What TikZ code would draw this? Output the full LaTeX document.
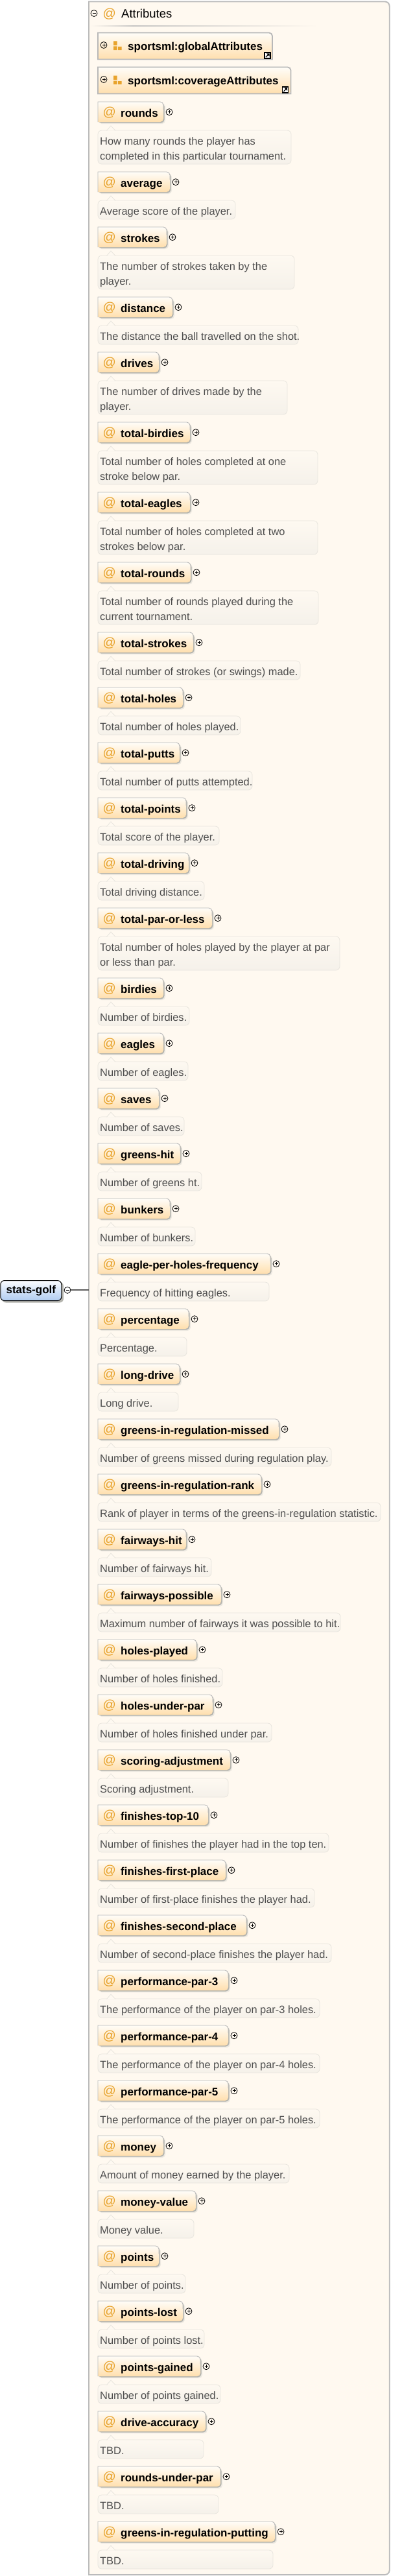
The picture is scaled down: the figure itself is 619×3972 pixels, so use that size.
\documentclass[tikz,border=0pt]{standalone}
\usepackage{fontspec}
\setmainfont{Liberation Sans}
\definecolor{panelfill}{HTML}{FFF9F0}
\definecolor{panelline}{HTML}{BBBBBB}
\definecolor{attrtop}{HTML}{FFFDF8}
\definecolor{attrbot}{HTML}{FFDFAE}
\definecolor{attrline}{HTML}{B8B8B8}
\definecolor{shadowdark}{HTML}{B4B4AE}
\definecolor{shadowlight}{HTML}{EDE9E1}
\definecolor{doctop}{HTML}{FEF9F1}
\definecolor{docbot}{HTML}{F5F1EA}
\definecolor{docline}{HTML}{E8E5DE}
\definecolor{doctext}{HTML}{4E4E4E}
\definecolor{atsign}{HTML}{E8A32C}
\definecolor{golftop}{HTML}{FBFCFF}
\definecolor{golfbot}{HTML}{AFCBF0}
\definecolor{wire}{HTML}{5A5A5A}
\newcount\itemno
\tikzset{
  labeltext/.style={anchor=base west,inner sep=0pt,font=\fontsize{17}{20}\selectfont\bfseries,text=black},
  doclabel/.style={anchor=base west,inner sep=0pt,font=\fontsize{16.4}{20}\selectfont,text=doctext},
  atmark/.style={anchor=base west,inner sep=0pt,font=\fontsize{20}{22}\selectfont,text=atsign},
  toggle/.style={circle,draw=black,line width=0.8pt,minimum size=10pt,inner sep=0pt},
  attrfill/.style={top color=attrtop,bottom color=attrbot},
  docfill/.style={top color=doctop,bottom color=docbot,draw=docline,line width=0.8pt,rounded corners=6pt}
}
% plus sign inside a toggle
\newcommand{\plusin}[1]{\draw[line width=0.7pt] (#1.center) +(-2.5,0) -- +(2.5,0) (#1.center) +(0,-2.5) -- +(0,2.5);}
\newcommand{\minusin}[1]{\draw[line width=0.7pt] (#1.center) +(-2.5,0) -- +(2.5,0);}
% box part of an attribute: top, width, name
\newcommand{\attrhead}[3]{%
  \global\advance\itemno by 1
  \pgfmathsetmacro{\rgt}{151+#2}
  \pgfmathsetmacro{\btm}{#1+31}
  \fill[shadowlight,rounded corners=5pt] (152,#1+3) -- (\rgt+3,#1+3) -- (\rgt+3,\btm+3) -- (152,\btm+3) -- cycle;
  \fill[shadowdark,rounded corners=5pt] (151,#1+2) -- (\rgt+1.5,#1+2) -- (\rgt+1.5,\btm+1.5) -- (151,\btm+1.5) -- cycle;
  \path[attrfill] (151,#1) [rounded corners=5pt] -- (\rgt,#1) -- (\rgt,\btm) [sharp corners] -- (151,\btm) -- cycle;
  \draw[attrline,line width=0.9pt] (151,\btm) -- (151,#1) [rounded corners=5pt] -- (\rgt,#1) -- (\rgt,#1+12);
  \node[atmark] (at\the\itemno) at (158.5,#1+22.5) {@};
  \node[labeltext] (label\the\itemno) at (186,#1+23) {#3};
  \node[toggle] (plus\the\itemno) at (\rgt+9,#1+15.7) {};
  \plusin{plus\the\itemno}
}
% callout part: top of attribute, width, number of text lines
\newcommand{\docbox}[3]{%
  \pgfmathsetmacro{\rgt}{151+#2}
  \pgfmathsetmacro{\dtop}{#1+44}
  \pgfmathsetmacro{\dbtm}{#1+73+23*(#3-1)}
  \path[docfill] (151,\dtop) rectangle (\rgt,\dbtm);
  \draw[docline,line width=0.8pt,fill=doctop] (164.5,\dtop+0.4) -- (171,\dtop-7) -- (178,\dtop+0.4);
}
% attribute with one documentation line
\newcommand{\attrone}[5]{%
  \attrhead{#1}{#2}{#3}
  \docbox{#1}{#4}{1}
  \node[doclabel] (doc\the\itemno) at (154,#1+66) {#5};
}
% attribute with two documentation lines
\newcommand{\attrtwo}[6]{%
  \attrhead{#1}{#2}{#3}
  \docbox{#1}{#4}{2}
  \node[doclabel] (doc\the\itemno) at (154,#1+66) {#5};
  \node[doclabel] (docb\the\itemno) at (154,#1+89) {#6};
}
% attribute group reference
\newcommand{\groupbox}[5]{% name, top, right, text, link icon centre
  \path[attrfill] (151,#2) [rounded corners=5pt] -- (#3,#2) -- (#3,#2+41) [sharp corners] -- (151,#2+41) -- cycle;
  \draw[attrline,line width=1.8pt] (151,#2) [rounded corners=5pt] -- (#3,#2) [sharp corners] -- (#3,#2+41) -- (151,#2+41) -- cycle;
  \node[toggle] (#1plus) at (160,#2+19) {};
  \plusin{#1plus}
  \fill[atsign] (175,#2+13) rectangle (180.5,#2+19.5) (175,#2+21) rectangle (180.5,#2+26.5) (182,#2+21.5) rectangle (187.5,#2+26.5);
  \node[labeltext] (#1) at (197,#2+27) {#4};
  \node[draw=black,line width=1.3pt,fill=white,minimum size=9pt,inner sep=0pt] (#1link) at (#5,#2+35) {};
  \draw[line width=1.2pt] (#1link.center) +(-2.6,2.6) -- +(2,-2);
  \fill (#1link.center) +(3.1,-3.1) -- +(-1.4,-3.1) -- +(3.1,1.4) -- cycle;
}
\begin{document}
\begin{tikzpicture}[x=1pt,y=-1pt]
\useasboundingbox (0,0) rectangle (619,3972);
\fill[white] (0,0) rectangle (619,3972);
% panel
\node[minimum width=464pt,minimum height=3968pt,inner sep=0pt] (panel) at (369,1986) {};
\path[fill=panelfill,draw=panelline,line width=1.9pt] (137,2.5) [rounded corners=7pt] -- (600.7,2.5) -- (600.7,3970) [sharp corners] -- (137,3970) -- cycle;
% heading
\node[toggle] (attrminus) at (145,20.5) {};
\minusin{attrminus}
\node[atmark] (attrat) at (158.5,28) {@};
\node[anchor=base west,inner sep=0pt,font=\fontsize{18.5}{20}\selectfont] (attrtitle) at (187,28) {Attributes};
\shade[left color=panelfill,right color=panelline!85!panelfill] (140,39.3) rectangle (205,40.8);
\shade[left color=panelline!85!panelfill,right color=panelfill] (205,39.3) rectangle (490,40.8);
% root element
\fill[shadowdark,rounded corners=6pt] (3,1977) rectangle (98,2008.5);
\node[inner sep=0pt,minimum width=94pt,minimum height=31pt,rounded corners=6pt,draw=black,line width=1pt,top color=golftop,bottom color=golfbot,font=\fontsize{17}{20}\selectfont\bfseries] (stats) at (47.8,1990) {stats-golf};
\node[toggle] (rootminus) at (104,1989.3) {};
\minusin{rootminus}
\draw[wire,line width=1.8pt] (rootminus.east) -- (panel.west |- rootminus);
% groups
\groupbox{globalgroup}{50.5}{420}{sportsml:globalAttributes}{412.5}
\groupbox{coveragegroup}{103.5}{448.5}{sportsml:coverageAttributes}{440}
% attributes
\attrtwo{157}{101}{rounds}{298}{How many rounds the player has}{completed in this particular tournament.}
\attrone{265}{111}{average}{212}{Average score of the player.}
\attrtwo{350}{106}{strokes}{303}{The number of strokes taken by the}{player.}
\attrone{458}{115}{distance}{309}{The distance the ball travelled on the shot.}
\attrtwo{543}{94}{drives}{292}{The number of drives made by the}{player.}
\attrtwo{651}{142}{total-birdies}{339}{Total number of holes completed at one}{stroke below par.}
\attrtwo{759}{142}{total-eagles}{339}{Total number of holes completed at two}{strokes below par.}
\attrtwo{867}{143}{total-rounds}{340}{Total number of rounds played during the}{current tournament.}
\attrone{975}{147}{total-strokes}{312}{Total number of strokes (or swings) made.}
\attrone{1060}{131}{total-holes}{220}{Total number of holes played.}
\attrone{1145}{126}{total-putts}{238}{Total number of putts attempted.}
\attrone{1230}{136}{total-points}{187}{Total score of the player.}
\attrone{1315}{140}{total-driving}{164}{Total driving distance.}
\attrtwo{1400}{176}{total-par-or-less}{373}{Total number of holes played by the player at par}{or less than par.}
\attrone{1508}{101}{birdies}{141}{Number of birdies.}
\attrone{1593}{101}{eagles}{139}{Number of eagles.}
\attrone{1678}{94}{saves}{133}{Number of saves.}
\attrone{1763}{127}{greens-hit}{160}{Number of greens ht.}
\attrone{1848}{111}{bunkers}{150}{Number of bunkers.}
\attrone{1933}{266}{eagle-per-holes-frequency}{264}{Frequency of hitting eagles.}
\attrone{2018}{140}{percentage}{137}{Percentage.}
\attrone{2103}{126}{long-drive}{124}{Long drive.}
\attrone{2188}{279}{greens-in-regulation-missed}{360}{Number of greens missed during regulation play.}
\attrone{2273}{252}{greens-in-regulation-rank}{436}{Rank of player in terms of the greens-in-regulation statistic.}
\attrone{2358}{136}{fairways-hit}{175}{Number of fairways hit.}
\attrone{2443}{190}{fairways-possible}{374}{Maximum number of fairways it was possible to hit.}
\attrone{2528}{152}{holes-played}{192}{Number of holes finished.}
\attrone{2613}{177}{holes-under-par}{268}{Number of holes finished under par.}
\attrone{2698}{204}{scoring-adjustment}{201}{Scoring adjustment.}
\attrone{2783}{170}{finishes-top-10}{356}{Number of finishes the player had in the top ten.}
\attrone{2868}{197}{finishes-first-place}{334}{Number of first-place finishes the player had.}
\attrone{2953}{229}{finishes-second-place}{360}{Number of second-place finishes the player had.}
\attrone{3038}{201}{performance-par-3}{342}{The performance of the player on par-3 holes.}
\attrone{3123}{201}{performance-par-4}{342}{The performance of the player on par-4 holes.}
\attrone{3208}{201}{performance-par-5}{342}{The performance of the player on par-5 holes.}
\attrone{3293}{101}{money}{295}{Amount of money earned by the player.}
\attrone{3378}{151}{money-value}{148}{Money value.}
\attrone{3463}{94}{points}{135}{Number of points.}
\attrone{3548}{131}{points-lost}{164}{Number of points lost.}
\attrone{3633}{158}{points-gained}{189}{Number of points gained.}
\attrone{3718}{166}{drive-accuracy}{163}{TBD.}
\attrone{3803}{189}{rounds-under-par}{186}{TBD.}
\attrone{3888}{273}{greens-in-regulation-putting}{270}{TBD.}
\end{tikzpicture}
\end{document}
